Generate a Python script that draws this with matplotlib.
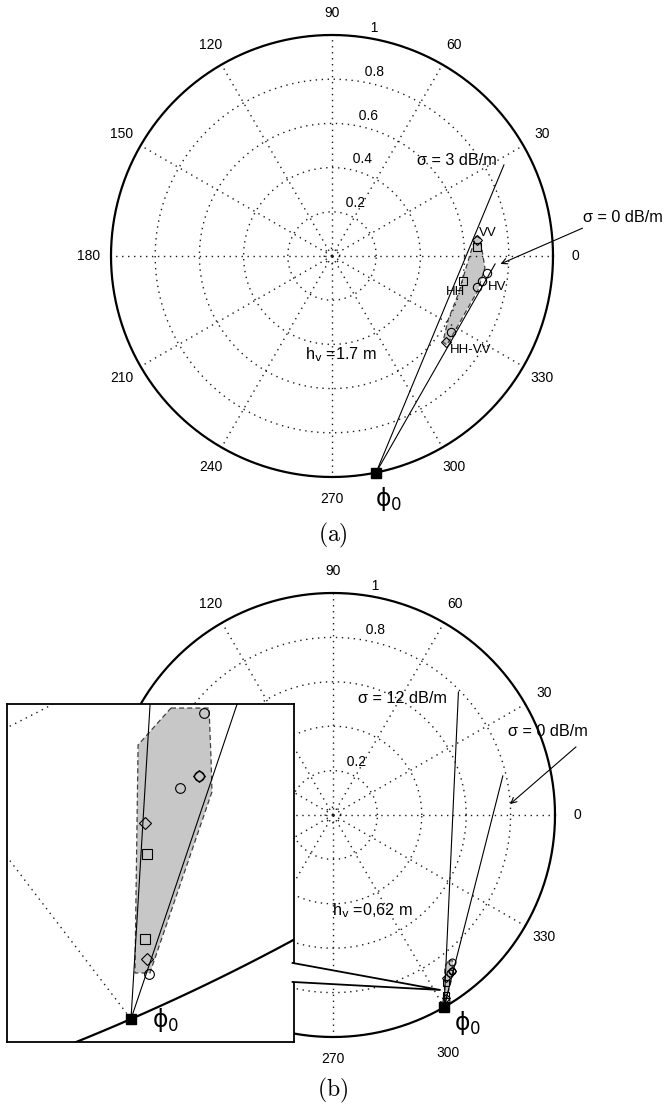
import numpy as np
import matplotlib.pyplot as plt
from matplotlib.patches import Polygon

plt.rcParams['font.family'] = ['Liberation Sans', 'DejaVu Sans']

W, H = 664, 1110

# polar grid (MATLAB style)
rings = [0.2, 0.4, 0.6, 0.8, 1.0]
ring_labels = ['0.2', '0.4', '0.6', '0.8', '1']
spokes = list(range(0, 360, 30))

# ---- (a) hv = 1.7 m
phi0_a = 281.5
a_sq_x = [0.656, 0.593]
a_sq_y = [0.041, -0.113]
a_ci_x = [0.701, 0.679, 0.656, 0.538]
a_ci_y = [-0.077, -0.113, -0.140, -0.344]
a_di_x = [0.656, 0.516]
a_di_y = [0.072, -0.389]
a_hull_x = [0.652, 0.670, 0.692, 0.661, 0.520, 0.502, 0.525, 0.570, 0.624]
a_hull_y = [0.090, 0.081, -0.054, -0.154, -0.403, -0.389, -0.290, -0.176, 0.005]
a_end3 = (0.778, 0.412)     # sigma = 3 dB/m
a_end0 = (0.738, -0.036)    # sigma = 0 dB/m

# ---- (b) hv = 0,62 m
phi0_b = 300.0
b_ci_x = [0.5371, 0.5345, 0.5249, 0.5091]
b_ci_y = [-0.6602, -0.7026, -0.7107, -0.8357]
b_di_x = [0.5345, 0.5071, 0.5081]
b_di_y = [-0.7026, -0.7342, -0.8257]
b_sq_x = [0.5081, 0.5071]
b_sq_y = [-0.7550, -0.8122]
b_hull_x = [0.5203, 0.5396, 0.5406, 0.5411, 0.5096, 0.5020, 0.5036]
b_hull_y = [-0.6569, -0.6569, -0.6898, -0.7133, -0.8351, -0.8351, -0.6817]
b_end12 = (0.565, 0.554)    # sigma = 12 dB/m
b_end0 = (0.765, 0.176)     # sigma = 0 dB/m

fig = plt.figure(figsize=(W / 100, H / 100), dpi=100)


def place(cx, cy, sx, sy, xlim, ylim):
    left = cx + xlim[0] * sx
    right = cx + xlim[1] * sx
    top = cy - ylim[1] * sy
    bot = cy - ylim[0] * sy
    ax = fig.add_axes([left / W, 1 - bot / H, (right - left) / W, (bot - top) / H])
    ax.set_xlim(xlim)
    ax.set_ylim(ylim)
    return ax


dots = dict(ls=(0, (1, 3.3)), color='0.1', lw=1.0)
t = np.linspace(0, 2 * np.pi, 721)


def grid(ax):
    for r in rings[:-1]:
        ax.plot(r * np.cos(t), r * np.sin(t), **dots)
    ax.plot(0.035 * np.cos(t), 0.035 * np.sin(t), **dots)
    for a in spokes:
        ax.plot([0, np.cos(np.radians(a))], [0, np.sin(np.radians(a))], **dots)
    ax.plot(np.cos(t), np.sin(t), color='k', lw=1.6)


def labels(ax, skip_r=(), skip_a=(), moved=None):
    moved = moved or {}
    for r, lab in zip(rings, ring_labels):
        if lab in skip_r:
            continue
        a = np.radians(82)
        ax.text((r + 0.01) * np.cos(a), (r + 0.01) * np.sin(a), '  ' + lab,
                ha='left', va='bottom', fontsize=10)
    for a in spokes:
        if a in skip_a:
            continue
        rr, aa = moved.get(a, (1.1, a))
        ax.text(rr * np.cos(np.radians(aa)), rr * np.sin(np.radians(aa)), str(a),
                ha='center', va='center', fontsize=10)


def data(ax, phi0, hx, hy, cx_, cy_, dx_, dy_, sx_, sy_, ends, ms=6):
    p0 = (np.cos(np.radians(phi0)), np.sin(np.radians(phi0)))
    ax.fill(hx, hy, facecolor='0.78', edgecolor='0.25', ls=(0, (4, 2.5)), lw=0.9)
    for e in ends:
        ax.plot([p0[0], e[0]], [p0[1], e[1]], color='k', lw=0.8)
    ax.plot(cx_, cy_, 'o', mfc='none', mec='k', ms=ms, mew=0.8)
    ax.plot(dx_, dy_, 'D', mfc='none', mec='k', ms=ms - 1, mew=0.8)
    ax.plot(sx_, sy_, 's', mfc='none', mec='k', ms=ms - 0.5, mew=0.8)
    ax.plot(*p0, 's', color='k', ms=7)
    return p0


phi_kw = dict(fontsize=17, ha='center', va='center', family='DejaVu Sans',
              math_fontfamily='dejavusans')

# ---------------- (a)
ax = place(332, 256, 221, 221, (-1.5, 1.5), (-1.15, 1.15))
ax.axis('off')
grid(ax)
labels(ax)
p0 = data(ax, phi0_a, a_hull_x, a_hull_y, a_ci_x, a_ci_y, a_di_x, a_di_y,
          a_sq_x, a_sq_y, [a_end3, a_end0])
ax.text(p0[0] + 0.055, p0[1] - 0.12, 'ϕ$_0$', **phi_kw)
ax.text(0.385, 0.434, 'σ = 3 dB/m', fontsize=11.7, ha='left', va='center')
ax.text(1.136, 0.172, 'σ = 0 dB/m', fontsize=11.7, ha='left', va='center')
ax.annotate('', xy=(0.751, -0.041), xytext=(1.145, 0.131),
            arrowprops=dict(arrowstyle='->', lw=0.8, color='k'))
ax.text(0.705, 0.104, 'VV', fontsize=9.5, ha='center', va='center')
ax.text(0.557, -0.163, 'HH', fontsize=9.5, ha='center', va='center')
ax.text(0.749, -0.140, 'HV', fontsize=9.5, ha='center', va='center')
ax.text(0.626, -0.425, 'HH-VV', fontsize=9.5, ha='center', va='center')
ax.text(0.204, -0.445, r'h$_\mathrm{v}$ =1.7 m', fontsize=11.7, ha='right',
        va='center', math_fontfamily='dejavusans')
fig.text(333 / W, 1 - 535 / H, r'$\mathrm{(a)}$', fontsize=17, ha='center',
         va='center', math_fontfamily='cm')

# ---------------- (b)
bx = place(333, 815, 222, 222, (-1.5, 1.5), (-1.15, 1.15))
bx.axis('off')
grid(bx)
labels(bx, skip_r=('0.4', '0.6'), skip_a=(150, 180, 210, 240),
       moved={300: (1.19, 295.8)})
q0 = data(bx, phi0_b, b_hull_x, b_hull_y, b_ci_x, b_ci_y, b_di_x, b_di_y,
          b_sq_x, b_sq_y, [b_end12, b_end0], ms=5)
bx.text(q0[0] + 0.108, q0[1] - 0.071, 'ϕ$_0$', **phi_kw)
bx.text(0.515, 0.527, 'σ = 12 dB/m', fontsize=11.7, ha='right', va='center')
bx.text(0.788, 0.378, 'σ = 0 dB/m', fontsize=11.7, ha='left', va='center')
bx.annotate('', xy=(0.788, 0.041), xytext=(1.104, 0.315),
            arrowprops=dict(arrowstyle='->', lw=0.8, color='k'))
bx.text(0.362, -0.430, r'h$_\mathrm{v}$ =0,62 m', fontsize=11.7, ha='right',
        va='center', math_fontfamily='dejavusans')
fig.text(333 / W, 1 - 1090 / H, r'$\mathrm{(b)}$', fontsize=17, ha='center',
         va='center', math_fontfamily='cm')

# ---------------- inset (zoom on the cluster of (b))
sx_in, sy_in = 1970, 1487
ix = place(131 - 0.5 * sx_in, 1019 + np.sin(np.radians(phi0_b)) * sy_in, sx_in, sy_in,
           (0.5 - 124 / sx_in, 0.5 + 163 / sx_in),
           (-0.866 - 23 / sy_in, -0.866 + 315 / sy_in))
ix.set_xticks([])
ix.set_yticks([])
for s in ix.spines.values():
    s.set_linewidth(1.3)
grid(ix)
r0 = data(ix, phi0_b, b_hull_x, b_hull_y, b_ci_x, b_ci_y, b_di_x, b_di_y,
          b_sq_x, b_sq_y, [b_end12, b_end0], ms=7)
ix.text(r0[0] + 0.0175, r0[1] - 0.0008, 'ϕ$_0$', **phi_kw)

# pointer from the inset to the cluster
inv = fig.transFigure.inverted()
tip = inv.transform(bx.transData.transform((0.482, -0.788)))
b1 = inv.transform(ix.transAxes.transform((0.995, (1042 - 963) / 338)))
b2 = inv.transform(ix.transAxes.transform((0.995, (1042 - 982) / 338)))
fig.patches.append(Polygon([b1, tip, b2], closed=True, transform=fig.transFigure,
                           facecolor='white', edgecolor='none', zorder=10))
fig.lines.append(plt.Line2D([b1[0], tip[0], b2[0]], [b1[1], tip[1], b2[1]],
                            transform=fig.transFigure, color='k', lw=1.3, zorder=11))

fig.savefig('out.png', dpi=100)
